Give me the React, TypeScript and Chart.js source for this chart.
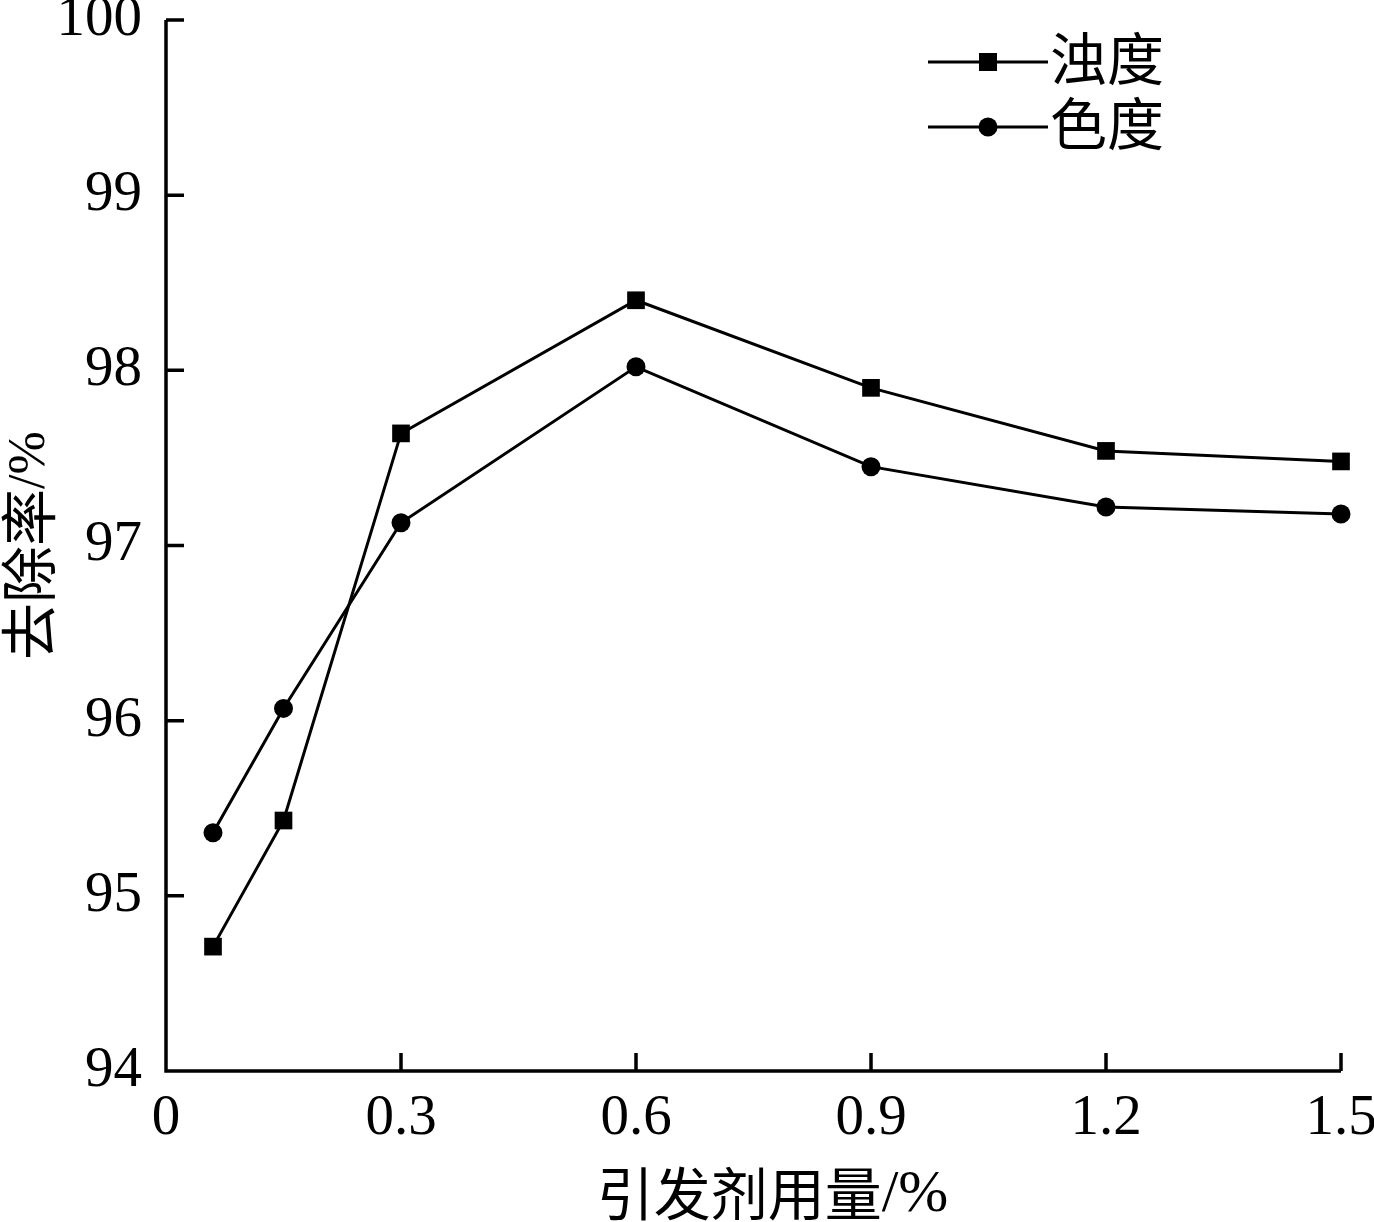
import React, { useRef, useEffect } from "react";
import { Chart, registerables } from "chart.js";

Chart.register(...registerables);

// dose of initiator (%)
const doses = [0.06, 0.15, 0.3, 0.6, 0.9, 1.2, 1.5];
// removal rate (%)
const turbidity = [94.71, 95.43, 97.64, 98.4, 97.9, 97.54, 97.48];
const chroma = [95.36, 96.07, 97.13, 98.02, 97.45, 97.22, 97.18];
const seriesNames = ["浊度", "色度"];
const xTickLabels = ["0", "0.3", "0.6", "0.9", "1.2", "1.5"];
const xTitle = "引发剂用量";
const yTitle = "去除率";

const SERIF = "'Liberation Serif', 'Times New Roman', serif";
const CJK = "'Noto Sans CJK SC', sans-serif";

const decorations = {
  id: "decorations",
  afterDraw(chart: any) {
    const { ctx, chartArea, scales } = chart;
    const x = scales.x;
    const y = scales.y;
    ctx.save();
    ctx.strokeStyle = "#000";
    ctx.fillStyle = "#000";
    ctx.lineWidth = 3.5;

    // axis lines and inward tick marks
    ctx.beginPath();
    ctx.moveTo(chartArea.left, chartArea.top);
    ctx.lineTo(chartArea.left, chartArea.bottom);
    ctx.lineTo(chartArea.right, chartArea.bottom);
    x.ticks.forEach((t: any) => {
      const px = x.getPixelForValue(t.value);
      ctx.moveTo(px, chartArea.bottom);
      ctx.lineTo(px, chartArea.bottom - 18);
    });
    y.ticks.forEach((t: any) => {
      const py = y.getPixelForValue(t.value);
      ctx.moveTo(chartArea.left, py);
      ctx.lineTo(chartArea.left + 18, py);
    });
    ctx.stroke();

    // x title
    ctx.textBaseline = "middle";
    ctx.font = `57px ${CJK}`;
    const w1 = ctx.measureText(xTitle).width;
    ctx.font = `60px ${SERIF}`;
    const w2 = ctx.measureText("/%").width;
    const cx = (chartArea.left + chartArea.right) / 2 + 19;
    let sx = cx - (w1 + w2) / 2;
    const ty = chartArea.bottom + 122;
    ctx.textAlign = "left";
    ctx.font = `57px ${CJK}`;
    ctx.fillText(xTitle, sx, ty);
    ctx.font = `60px ${SERIF}`;
    ctx.fillText("/%", sx + w1, ty + 2);

    // y title (rotated)
    ctx.save();
    ctx.translate(28, (chartArea.top + chartArea.bottom) / 2);
    ctx.rotate(-Math.PI / 2);
    ctx.font = `57px ${CJK}`;
    const v1 = ctx.measureText(yTitle).width;
    ctx.font = `52px ${SERIF}`;
    const v2 = ctx.measureText("/%").width;
    sx = -(v1 + v2) / 2;
    ctx.font = `57px ${CJK}`;
    ctx.fillText(yTitle, sx, 0);
    ctx.font = `52px ${SERIF}`;
    ctx.fillText("/%", sx + v1, 2);
    ctx.restore();

    // legend
    const styles = ["rect", "circle"];
    const rows = [62, 127];
    ctx.lineWidth = 3;
    seriesNames.forEach((name, i) => {
      const ly = rows[i];
      ctx.beginPath();
      ctx.moveTo(928, ly);
      ctx.lineTo(1048, ly);
      ctx.stroke();
      ctx.beginPath();
      if (styles[i] === "rect") {
        ctx.rect(988 - 9, ly - 9, 18, 18);
      } else {
        ctx.arc(988, ly, 9.5, 0, Math.PI * 2);
      }
      ctx.fill();
      ctx.font = `57px ${CJK}`;
      ctx.textAlign = "left";
      ctx.fillText(name, 1050, ly - 4);
    });
    ctx.restore();
  },
};

const noPad = (s: any) => {
  s.paddingTop = 0;
  s.paddingBottom = 0;
  s.paddingLeft = 0;
  s.paddingRight = 0;
};

const App = () => {
  const canvasRef = useRef<HTMLCanvasElement>(null);
  const chartRef = useRef<Chart | null>(null);

  useEffect(() => {
    document.body.style.margin = "0";
    if (!canvasRef.current) return;
    chartRef.current = new Chart(canvasRef.current, {
      type: "line",
      data: {
        datasets: [
          {
            label: seriesNames[0],
            data: doses.map((d, i) => ({ x: d, y: turbidity[i] })),
            borderColor: "#000",
            backgroundColor: "#000",
            borderWidth: 3,
            pointStyle: "rect",
            pointRadius: 12.5,
            pointBackgroundColor: "#000",
            pointBorderWidth: 0,
            tension: 0,
            clip: false,
          },
          {
            label: seriesNames[1],
            data: doses.map((d, i) => ({ x: d, y: chroma[i] })),
            borderColor: "#000",
            backgroundColor: "#000",
            borderWidth: 3,
            pointStyle: "circle",
            pointRadius: 9.5,
            pointBackgroundColor: "#000",
            pointBorderWidth: 0,
            tension: 0,
            clip: false,
          },
        ],
      },
      options: {
        responsive: false,
        animation: false,
        layout: { padding: { top: 20, right: 33, left: 0, bottom: 0 } },
        plugins: {
          legend: { display: false },
          tooltip: { enabled: false },
        },
        scales: {
          x: {
            type: "linear",
            min: 0,
            max: 1.5,
            grid: { display: false, drawTicks: false },
            border: { display: false },
            ticks: {
              stepSize: 0.3,
              padding: 14,
              color: "#000",
              font: { family: SERIF, size: 57 },
              maxRotation: 0,
              callback: (_v: any, i: number) => xTickLabels[i],
            },
            afterFit: (s: any) => {
              s.height = 151;
              noPad(s);
            },
          },
          y: {
            min: 94,
            max: 100,
            grid: { display: false, drawTicks: false },
            border: { display: false },
            ticks: {
              stepSize: 1,
              padding: 24,
              color: "#000",
              font: { family: SERIF, size: 57 },
            },
            afterFit: (s: any) => {
              s.width = 166;
              noPad(s);
            },
          },
        },
      },
      plugins: [decorations],
    });
    return () => {
      chartRef.current?.destroy();
    };
  }, []);

  return <canvas ref={canvasRef} width={1374} height={1222} />;
};

export default App;
